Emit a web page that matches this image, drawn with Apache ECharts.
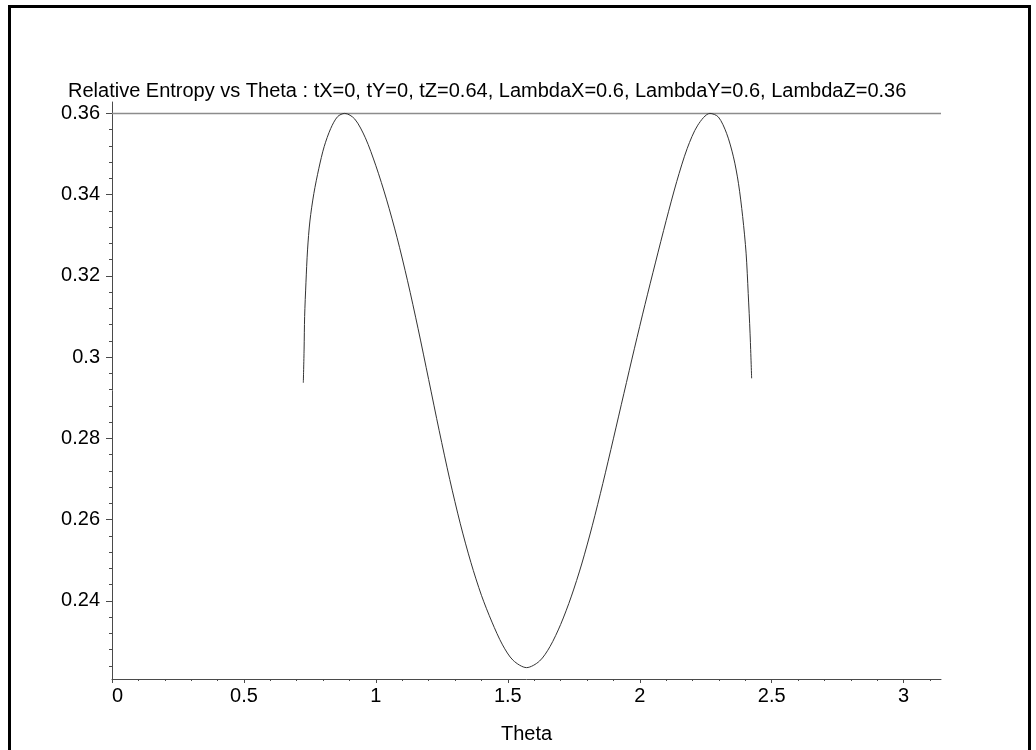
<!DOCTYPE html>
<html>
<head>
<meta charset="utf-8">
<script src="https://cdn.jsdelivr.net/npm/echarts@6/dist/echarts.min.js"></script>
<style>
  html, body { margin: 0; padding: 0; background: #fff; }
  #main { width: 1036px; height: 750px; }
</style>
</head>
<body>
<div id="main"></div>
<script>
// theta values
var thetaVals = [
  0.725, 0.728, 0.730, 0.735, 0.741, 0.750, 0.765, 0.784, 0.804, 0.829, 0.855, 0.882,
  0.92, 0.96, 1.00, 1.04, 1.08, 1.12, 1.16, 1.20, 1.24, 1.28, 1.32, 1.36, 1.40, 1.44, 1.48, 1.52,
  1.571,
  1.62, 1.66, 1.70, 1.74, 1.78, 1.82, 1.86, 1.90, 1.94, 1.98, 2.02, 2.06, 2.10, 2.14, 2.18, 2.22,
  2.266, 2.298, 2.329, 2.355, 2.374, 2.390, 2.403, 2.411, 2.418, 2.424
];
// relative entropy at each theta
var entropyVals = [
  0.2937, 0.3020, 0.3100, 0.3183, 0.3264, 0.3335, 0.3403, 0.3465, 0.3518, 0.3563, 0.3592, 0.3600,
  0.3586, 0.3540, 0.3471, 0.3389, 0.3295, 0.3188, 0.3070, 0.2945, 0.2819, 0.2699, 0.2590, 0.2495, 0.2414, 0.2348, 0.2292, 0.2254,
  0.2236,
  0.2252, 0.2288, 0.2342, 0.2410, 0.2491, 0.2585, 0.2689, 0.2799, 0.2911, 0.3022, 0.3130, 0.3234, 0.3336, 0.3432, 0.3514, 0.3571,
  0.3600, 0.3591, 0.3551, 0.3493, 0.3428, 0.3346, 0.3256, 0.3157, 0.3059, 0.2948
];
// horizontal reference line
var refLine = [[0, 0.36], [Math.PI, 0.36]];

// ticks
var xMajor = [0, 0.5, 1, 1.5, 2, 2.5, 3];
var yMajor = [0.24, 0.26, 0.28, 0.3, 0.32, 0.34, 0.36];
var xMinor = [];
for (var i = 1; i <= 31; i++) { if (i % 5 !== 0) xMinor.push(i / 10); }
var yMinor = [];
for (var j = 56; j <= 89; j++) { if (j % 5 !== 0) yMinor.push(j * 0.004); }

var curve = thetaVals.map(function (t, k) { return [t, entropyVals[k]]; });

var FONT = "'Liberation Sans', Arial, sans-serif";
var AXIS_COLOR = '#4a4a4a';

var myChart = echarts.init(document.getElementById('main'));
var option = {
  backgroundColor: '#fff',
  animation: false,
  title: {
    text: 'Relative Entropy vs Theta : tX=0, tY=0, tZ=0.64, LambdaX=0.6, LambdaY=0.6, LambdaZ=0.36',
    left: 68,
    top: 81,
    padding: 0,
    textStyle: { fontFamily: FONT, fontSize: 20, fontWeight: 'normal', color: '#000' }
  },
  grid: { left: 112, right: 95, top: 102, bottom: 71 },
  graphic: [{
    type: 'polyline',
    shape: { points: [[9.5, 760], [9.5, 6.5], [1029.5, 6.5], [1029.5, 760]] },
    style: { stroke: '#000', lineWidth: 3, fill: null }
  }],
  xAxis: [{
    type: 'value', min: 0, max: Math.PI, position: 'bottom',
    name: 'Theta', nameLocation: 'middle', nameGap: 45,
    nameTextStyle: { fontFamily: FONT, fontSize: 20, color: '#000' },
    axisLine: { lineStyle: { color: AXIS_COLOR, width: 1 } },
    axisTick: { customValues: xMajor, length: 4, lineStyle: { color: AXIS_COLOR } },
    axisLabel: {
      customValues: xMajor, margin: 7, alignMinLabel: 'left',
      fontFamily: FONT, fontSize: 20, color: '#000',
      formatter: function (v) { return String(+v.toFixed(2)); }
    },
    splitLine: { show: false }
  }, {
    type: 'value', min: 0, max: Math.PI, position: 'bottom', offset: 0,
    axisLine: { show: false },
    axisTick: { customValues: xMinor, length: 2, lineStyle: { color: AXIS_COLOR } },
    axisLabel: { show: false },
    splitLine: { show: false }
  }],
  yAxis: [{
    type: 'value', min: 0.2208, max: 0.3628, position: 'left',
    axisLine: { show: true, lineStyle: { color: AXIS_COLOR, width: 1 } },
    axisTick: { show: true, customValues: yMajor, length: 6, lineStyle: { color: AXIS_COLOR } },
    axisLabel: {
      customValues: yMajor, margin: 12,
      fontFamily: FONT, fontSize: 20, color: '#000',
      formatter: function (v) { return String(+v.toFixed(2)); }
    },
    splitLine: { show: false }
  }, {
    type: 'value', min: 0.2208, max: 0.3628, position: 'left', offset: 0,
    axisLine: { show: false },
    axisTick: { show: true, customValues: yMinor, length: 3, lineStyle: { color: AXIS_COLOR } },
    axisLabel: { show: false },
    splitLine: { show: false }
  }],
  series: [{
    name: 'ref',
    type: 'line',
    data: refLine,
    symbol: 'none',
    lineStyle: { color: '#8c8c8c', width: 1.5 },
    silent: true
  }, {
    name: 'entropy',
    type: 'line',
    data: curve,
    symbol: 'none',
    smooth: 0.3,
    lineStyle: { color: '#333', width: 1 }
  }]
};
myChart.setOption(option);

window.onresize = function () { myChart.resize(); };
</script>
</body>
</html>
